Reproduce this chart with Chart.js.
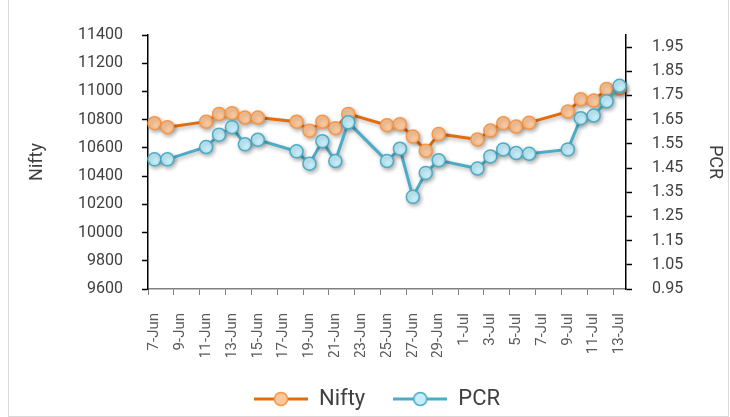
<!DOCTYPE html>
<html>
<head>
<meta charset="utf-8">
<script src="https://cdn.jsdelivr.net/npm/chart.js@4.4.1/dist/chart.umd.min.js"></script>
<style>
  body { margin: 0; background: #fff; }
  #wrap { position: relative; width: 730px; height: 417px; }
  #frame { position: absolute; left: 8px; top: -1px; width: 719px; height: 416px; border: 1px solid #d9d9d9; pointer-events: none; }
</style>
</head>
<body>
<div id="wrap">
  <canvas id="niftyChart"></canvas>
  <div id="frame"></div>
</div>
<script>
// axis days (every calendar day, labels shown on every other one)
var axisDays = ['7-Jun', '8-Jun', '9-Jun', '10-Jun', '11-Jun', '12-Jun', '13-Jun', '14-Jun', '15-Jun', '16-Jun',
    '17-Jun', '18-Jun', '19-Jun', '20-Jun', '21-Jun', '22-Jun', '23-Jun', '24-Jun', '25-Jun', '26-Jun',
    '27-Jun', '28-Jun', '29-Jun', '30-Jun', '1-Jul', '2-Jul', '3-Jul', '4-Jul', '5-Jul', '6-Jul',
    '7-Jul', '8-Jul', '9-Jul', '10-Jul', '11-Jul', '12-Jul', '13-Jul'];

// trading days
var tradeDays = ['7-Jun', '8-Jun', '11-Jun', '12-Jun', '13-Jun', '14-Jun', '15-Jun', '18-Jun', '19-Jun', '20-Jun',
    '21-Jun', '22-Jun', '25-Jun', '26-Jun', '27-Jun', '28-Jun', '29-Jun', '2-Jul', '3-Jul', '4-Jul',
    '5-Jul', '6-Jul', '9-Jul', '10-Jul', '11-Jul', '12-Jul', '13-Jul'];

var nifty = [10775, 10747, 10786, 10841, 10846, 10815, 10815, 10786, 10722, 10786,
    10740, 10841, 10761, 10768, 10680, 10579, 10699, 10660, 10723, 10775,
    10751, 10779, 10857, 10945, 10935, 11018, 11020];

var pcr = [1.486, 1.486, 1.537, 1.588, 1.619, 1.548, 1.567, 1.519, 1.468, 1.561,
    1.479, 1.639, 1.479, 1.530, 1.331, 1.430, 1.482, 1.448, 1.498, 1.527,
    1.512, 1.509, 1.527, 1.656, 1.667, 1.726, 1.790];

var niftyTicks = [9600, 9800, 10000, 10200, 10400, 10600, 10800, 11000, 11200, 11400];
var pcrTicks = [0.95, 1.05, 1.15, 1.25, 1.35, 1.45, 1.55, 1.65, 1.75, 1.85, 1.95];

var textColor = '#404040';
var fontName = 'Roboto';

function toPoints(values) {
    return values.map(function (v, i) { return { x: tradeDays[i], y: v }; });
}

// legend icon: line with a marker in the middle
function legendIcon(lineColor, fill, border) {
    var c = document.createElement('canvas');
    c.width = 54; c.height = 16;
    var g = c.getContext('2d');
    g.strokeStyle = lineColor; g.lineWidth = 3;
    g.beginPath(); g.moveTo(0, 8); g.lineTo(54, 8); g.stroke();
    g.beginPath(); g.arc(27, 8, 6.5, 0, Math.PI * 2);
    g.fillStyle = fill; g.fill();
    g.strokeStyle = border; g.lineWidth = 1.5; g.stroke();
    return c;
}

var shadowPlugin = {
    id: 'shadow',
    beforeDatasetDraw: function (chart) {
        var ctx = chart.ctx;
        ctx.save();
        ctx.shadowColor = 'rgba(0,0,0,0.3)';
        ctx.shadowBlur = 4;
        ctx.shadowOffsetX = 1.5;
        ctx.shadowOffsetY = 2;
    },
    afterDatasetDraw: function (chart) {
        chart.ctx.restore();
    }
};

// nudge the legend a little right/down
var legendShift = {
    id: 'legendShift',
    afterLayout: function (chart) {
        var lg = chart.legend;
        lg.left += 12; lg.right += 12;
        lg.top += 3; lg.bottom += 3;
    }
};

var ctx = document.getElementById('niftyChart').getContext('2d');
var niftyChart = new Chart(ctx, {
    type: 'line',
    data: {
        labels: axisDays,
        datasets: [{
            label: 'Nifty',
            data: toPoints(nifty),
            yAxisID: 'y',
            borderColor: '#E46C0A',
            borderWidth: 3,
            pointRadius: 6.5,
            pointBorderWidth: 1.5,
            pointBackgroundColor: '#FBC79C',
            pointBorderColor: '#F79646',
            order: 1
        },
        {
            label: 'PCR',
            data: toPoints(pcr),
            yAxisID: 'y1',
            borderColor: '#4BACC6',
            borderWidth: 3,
            pointRadius: 6.5,
            pointBorderWidth: 1.5,
            pointBackgroundColor: '#C5EEFA',
            pointBorderColor: '#4BACC6',
            order: 0
        }]
    },
    options: {
        responsive: true,
        maintainAspectRatio: false,
        animation: false,
        layout: { padding: { top: 35, left: 0, right: 0, bottom: 0 } },
        plugins: {
            tooltip: { enabled: false },
            legend: {
                position: 'bottom',
                labels: {
                    usePointStyle: true,
                    pointStyleWidth: 54,
                    boxHeight: 16,
                    padding: 28,
                    color: textColor,
                    font: { family: fontName, size: 22 },
                    generateLabels: function () {
                        return [
                            { text: 'Nifty', pointStyle: legendIcon('#E46C0A', '#FBC79C', '#F79646'), lineWidth: 0, fontColor: textColor, hidden: false, datasetIndex: 0 },
                            { text: 'PCR', pointStyle: legendIcon('#4BACC6', '#C5EEFA', '#4BACC6'), lineWidth: 0, fontColor: textColor, hidden: false, datasetIndex: 1 }
                        ];
                    }
                }
            }
        },
        scales: {
            x: {
                type: 'category',
                offset: true,
                afterFit: function (s) { s.height = 68; },
                grid: {
                    offset: true,
                    drawOnChartArea: false,
                    tickLength: 6,
                    tickColor: function (c) { return c.index % 2 === 0 ? '#808080' : 'rgba(0,0,0,0)'; }
                },
                border: { color: '#808080', width: 1.5 },
                ticks: {
                    autoSkip: false,
                    minRotation: 90,
                    maxRotation: 90,
                    padding: 18,
                    color: '#595959',
                    font: { family: fontName, size: 15 },
                    callback: function (v, i) { return i % 2 === 0 ? axisDays[i] : ''; }
                }
            },
            y: {
                position: 'left',
                min: 9600,
                max: 11400,
                afterFit: function (s) { s.width = 148; },
                afterBuildTicks: function (s) { s.ticks = niftyTicks.map(function (v) { return { value: v }; }); },
                grid: { drawOnChartArea: false, tickLength: 6, tickColor: '#000', tickWidth: 1.5 },
                border: { color: '#000', width: 1.5 },
                ticks: { padding: 19, color: textColor, font: { family: fontName, size: 16 }, callback: function (v) { return String(v); } },
                title: { display: true, text: 'Nifty', color: textColor, font: { family: fontName, size: 18 }, padding: { top: 27 } }
            },
            y1: {
                position: 'right',
                min: 0.95,
                max: 2.0,
                afterFit: function (s) { s.width = 104; },
                afterBuildTicks: function (s) { s.ticks = pcrTicks.map(function (v) { return { value: v }; }); },
                grid: { drawOnChartArea: false, tickLength: 6, tickColor: '#000', tickWidth: 1.5 },
                border: { color: '#000', width: 1.5 },
                ticks: { padding: 20, color: textColor, font: { family: fontName, size: 16 }, callback: function (v) { return v.toFixed(2); } },
                title: { display: true, text: 'PCR', color: textColor, font: { family: fontName, size: 18 }, padding: { top: 5 } }
            }
        }
    },
    plugins: [shadowPlugin, legendShift]
});
</script>
</body>
</html>
